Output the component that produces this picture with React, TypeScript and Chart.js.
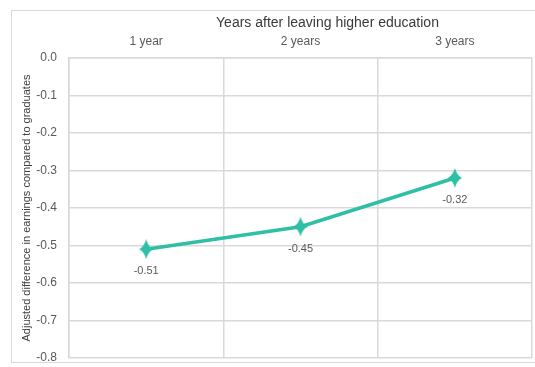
import React, { useEffect, useRef } from "react";
import { Chart, registerables } from "chart.js";

Chart.register(...registerables);

const categories = ["1 year", "2 years", "3 years"];
const earningsGap = [-0.51, -0.45, -0.32];
const yTickMin = -0.8;
const yTickMax = 0.0;
const yTickStep = 0.1;
const xAxisTitle = "Years after leaving higher education";

const TEAL = "#2EBFA5";
const GRID = "#D9D9D9";
const TICK_TEXT = "#595959";
const FONT = "'Liberation Sans', Arial, sans-serif";

// Four-pointed star used as the point marker
function makeStarMarker(): HTMLCanvasElement {
  const w = 14;
  const h = 20;
  const c = document.createElement("canvas");
  c.width = w;
  c.height = h;
  const g = c.getContext("2d")!;
  const cx = w / 2;
  const cy = h / 2;
  g.fillStyle = TEAL;
  g.beginPath();
  g.moveTo(cx, 0);
  g.quadraticCurveTo(cx + 2, cy - 2.5, w, cy);
  g.quadraticCurveTo(cx + 2, cy + 2.5, cx, h);
  g.quadraticCurveTo(cx - 2, cy + 2.5, 0, cy);
  g.quadraticCurveTo(cx - 2, cy - 2.5, cx, 0);
  g.closePath();
  g.fill();
  return c;
}

// Value labels under each point
const valueLabels = {
  id: "valueLabels",
  afterDatasetsDraw(chart: any) {
    const ctx = chart.ctx;
    const meta = chart.getDatasetMeta(0);
    ctx.save();
    ctx.font = `11px ${FONT}`;
    ctx.fillStyle = TICK_TEXT;
    ctx.textAlign = "center";
    ctx.textBaseline = "middle";
    meta.data.forEach((pt: any, i: number) => {
      ctx.fillText(earningsGap[i].toFixed(2), pt.x, pt.y + 22);
    });
    ctx.restore();
  },
};

// Title above the top category axis, set a little right of the plot centre
const topAxisTitle = {
  id: "topAxisTitle",
  afterDraw(chart: any) {
    const ctx = chart.ctx;
    const area = chart.chartArea;
    ctx.save();
    ctx.font = `14px ${FONT}`;
    ctx.fillStyle = "#3A3A3A";
    ctx.textAlign = "center";
    ctx.textBaseline = "middle";
    ctx.fillText(xAxisTitle, (area.left + area.right) / 2 + 27, area.top - 35);
    ctx.restore();
  },
};

export default function App() {
  const canvasRef = useRef<HTMLCanvasElement>(null);

  useEffect(() => {
    const marker = makeStarMarker();
    const chart = new Chart(canvasRef.current!, {
      type: "line",
      data: {
        labels: categories,
        datasets: [
          {
            data: earningsGap,
            borderColor: TEAL,
            backgroundColor: TEAL,
            borderWidth: 3.5,
            pointStyle: marker as any,
            pointRadius: 8,
            tension: 0,
          },
        ],
      },
      options: {
        responsive: false,
        animation: false,
        layout: { autoPadding: false, padding: { left: 14, top: 10, right: 3, bottom: 9 } },
        plugins: {
          legend: { display: false },
          tooltip: { enabled: false },
        },
        scales: {
          x: {
            type: "category",
            position: "top",
            offset: true,
            grid: { color: GRID, offset: true, drawTicks: false, lineWidth: 1.5 },
            border: { color: GRID, width: 1.5 },
            ticks: { color: TICK_TEXT, font: { size: 12, family: FONT }, padding: 9 },
            afterFit: (s: any) => {
              s.height = 48;
              s.paddingLeft = 0;
              s.paddingRight = 0;
            },
          },
          y: {
            min: yTickMin,
            max: yTickMax,
            grid: { color: GRID, drawTicks: false, lineWidth: 1.5 },
            border: { color: GRID, width: 1.5 },
            ticks: {
              stepSize: yTickStep,
              color: TICK_TEXT,
              font: { size: 12, family: FONT },
              padding: 12,
              callback: (v: any) => Number(v).toFixed(1),
            },
            title: {
              display: true,
              text: "Adjusted difference in earnings compared to graduates",
              color: "#404040",
              font: { size: 11, family: FONT },
              padding: { top: 6, bottom: 0 },
            },
            afterFit: (s: any) => {
              s.width = 55;
              s.paddingTop = 0;
              s.paddingBottom = 0;
            },
          },
        },
      },
      plugins: [valueLabels, topAxisTitle],
    });
    return () => chart.destroy();
  }, []);

  return (
    <div style={{ position: "fixed", left: 0, top: 0, width: 535, height: 367, background: "#fff" }}>
      <div
        style={{
          position: "absolute",
          left: 11,
          top: 10,
          width: 540,
          height: 353,
          border: `1px solid ${GRID}`,
          boxSizing: "border-box",
        }}
      />
      <canvas
        ref={canvasRef}
        width={535}
        height={367}
        style={{ position: "absolute", left: 0, top: 0, width: 535, height: 367 }}
      />
    </div>
  );
}
